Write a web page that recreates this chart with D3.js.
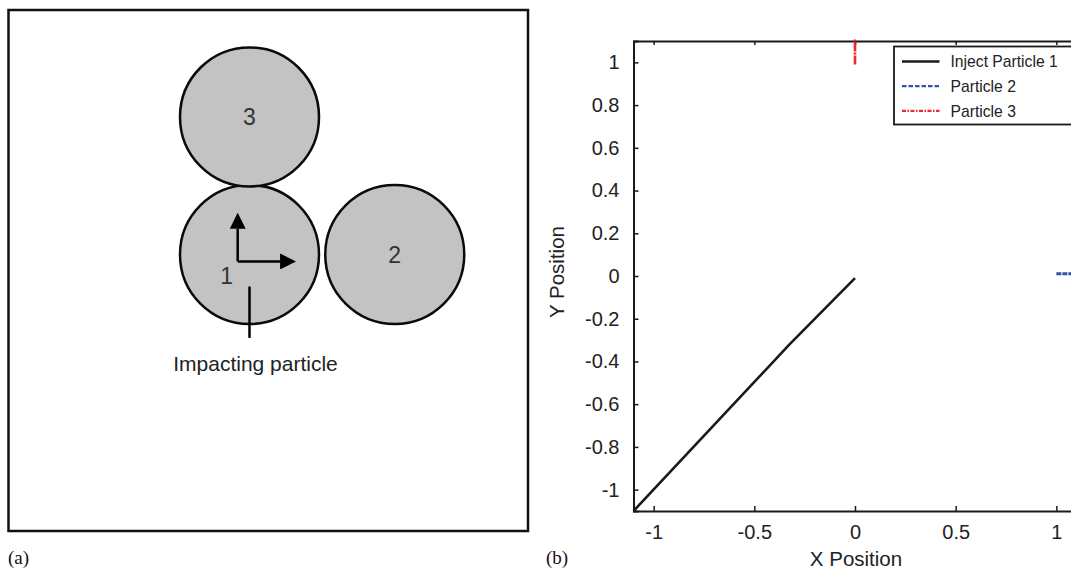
<!DOCTYPE html>
<html>
<head>
<meta charset="utf-8">
<script src="https://cdn.jsdelivr.net/npm/d3@7"></script>
<style>
  body { margin: 0; background: #fff; }
  svg { display: block; font-family: "Liberation Sans", Arial, Helvetica, sans-serif; }
  .serif { font-family: "Liberation Serif", "Times New Roman", serif; }
</style>
</head>
<body>
<div id="chart"></div>
<script>

// ---- panel (a): particle layout, in units of particle radius
var particleNames = ["1", "2", "3"];
var particleCx = [0, 2.09, 0];
var particleCy = [0, 0, 1.98];

// ---- panel (b): trajectories
var xTicks = [-1, -0.5, 0, 0.5, 1];
var yTicks = [-1, -0.8, -0.6, -0.4, -0.2, 0, 0.2, 0.4, 0.6, 0.8, 1];
var seriesNames = ["Inject Particle 1", "Particle 2", "Particle 3"];
var p1X = [-1.1, -0.33, 0];
var p1Y = [-1.1, -0.325, -0.01];
var p2X = [1.0, 1.1];
var p2Y = [0.01, 0.01];
var p3X = [0, 0];
var p3Y = [0.99, 1.11];

var svgWidth = 1071;
var svgHeight = 571;

var svg = d3.select("#chart")
  .append("svg")
  .attr("width", svgWidth)
  .attr("height", svgHeight);

// =================== panel (a) ===================
var a = svg.append("g");

a.append("rect")
  .attr("x", 8.5)
  .attr("y", 10)
  .attr("width", 519.5)
  .attr("height", 521)
  .attr("fill", "none")
  .attr("stroke", "#111")
  .attr("stroke-width", 2.5);

// scales for the schematic (radius = 1 unit)
var ax = d3.scaleLinear().domain([0, 1]).range([249.5, 319]);
var ay = d3.scaleLinear().domain([0, 1]).range([254.5, 185]);
var rPx = ax(1) - ax(0);

var parts = particleNames.map(function(n, i) {
  return { name: n, x: particleCx[i], y: particleCy[i] };
});

a.selectAll("circle.particle")
  .data(parts)
  .enter()
  .append("circle")
  .attr("class", "particle")
  .attr("cx", d => ax(d.x))
  .attr("cy", d => ay(d.y))
  .attr("r", rPx)
  .attr("fill", "#c3c3c3")
  .attr("stroke", "#0a0a0a")
  .attr("stroke-width", 2.5);

// labels 2 and 3 centred, 1 sits lower-left of the arrows
a.selectAll("text.plabel")
  .data(parts)
  .enter()
  .append("text")
  .attr("class", "plabel")
  .attr("x", d => d.name === "1" ? ax(d.x - 0.33) : ax(d.x))
  .attr("y", d => d.name === "1" ? ay(d.y - 0.31) : ay(d.y))
  .attr("dy", "0.36em")
  .attr("text-anchor", "middle")
  .attr("font-size", 23)
  .attr("fill", "#333")
  .text(d => d.name);

// arrow heads
var defs = svg.append("defs");
defs.append("marker")
  .attr("id", "head")
  .attr("viewBox", "0 0 10 10")
  .attr("refX", 0)
  .attr("refY", 5)
  .attr("markerWidth", 16)
  .attr("markerHeight", 16)
  .attr("markerUnits", "userSpaceOnUse")
  .attr("orient", "auto")
  .append("path")
  .attr("d", "M0,0 L10,5 L0,10 Z")
  .attr("fill", "#000");

var ox = ax(-0.17), oy = ay(-0.1);
a.append("line")
  .attr("x1", ox).attr("y1", oy)
  .attr("x2", ox).attr("y2", ay(0.37))
  .attr("stroke", "#000").attr("stroke-width", 2.5)
  .attr("marker-end", "url(#head)");
a.append("line")
  .attr("x1", ox).attr("y1", oy)
  .attr("x2", ax(0.44)).attr("y2", oy)
  .attr("stroke", "#000").attr("stroke-width", 2.5)
  .attr("marker-end", "url(#head)");

// pointer line + caption
a.append("line")
  .attr("x1", ax(0)).attr("y1", ay(-0.46))
  .attr("x2", ax(0)).attr("y2", ay(-1.2))
  .attr("stroke", "#000").attr("stroke-width", 2.5);

a.append("text")
  .attr("x", 255.5)
  .attr("y", 371)
  .attr("text-anchor", "middle")
  .attr("font-size", 21)
  .attr("fill", "#222")
  .text("Impacting particle");

a.append("text")
  .attr("class", "serif")
  .attr("x", 8)
  .attr("y", 564)
  .attr("font-size", 19)
  .attr("fill", "#111")
  .text("(a)");

// =================== panel (b) ===================
var margin = { top: 41, left: 633.5 };
var chartWidth = 1076.5 - margin.left;
var chartHeight = 511 - margin.top;

var chartGroup = svg.append("g")
  .attr("transform", `translate(${margin.left}, ${margin.top})`);

var xScale = d3.scaleLinear().domain([-1.1, 1.1]).range([0, chartWidth]);
var yScale = d3.scaleLinear().domain([-1.1, 1.1]).range([chartHeight, 0]);

// plain hyphen minus like the original
var fmt = d => String(d);

// inward ticks
var xAxis = d3.axisBottom(xScale).tickValues(xTicks).tickSize(-5).tickPadding(14).tickFormat(fmt);
var xTop = d3.axisTop(xScale).tickValues(xTicks).tickSize(-4).tickFormat("");
var yAxis = d3.axisLeft(yScale).tickValues(yTicks).tickSize(-5).tickPadding(14).tickFormat(fmt);

function styleAxis(g) {
  g.select(".domain").attr("stroke", "#1a1a1a").attr("stroke-width", 2);
  g.selectAll(".tick line").attr("stroke", "#1a1a1a").attr("stroke-width", 1.5);
  g.selectAll(".tick text")
    .attr("font-size", 20)
    .attr("fill", "#222")
    .attr("font-family", "'Liberation Sans', Arial, sans-serif");
}

chartGroup.append("g")
  .attr("transform", `translate(0, ${chartHeight})`)
  .call(xAxis)
  .call(styleAxis);

chartGroup.append("g")
  .call(xTop)
  .call(styleAxis);

chartGroup.append("g")
  .call(yAxis)
  .call(styleAxis);

// right frame (falls just outside the picture)
chartGroup.append("line")
  .attr("x1", chartWidth).attr("x2", chartWidth)
  .attr("y1", 0).attr("y2", chartHeight)
  .attr("stroke", "#1a1a1a").attr("stroke-width", 2);

var series = [
  { name: seriesNames[0], xs: p1X, ys: p1Y, color: "#1a1a1a", dash: null, w: 2.6 },
  { name: seriesNames[1], xs: p2X, ys: p2Y, color: "#3553a8", dash: "5,1", w: 3 },
  { name: seriesNames[2], xs: p3X, ys: p3Y, color: "#ea2a2f", dash: "9,1,2,1", w: 2.6 }
];

var line = d3.line()
  .x(d => xScale(d[0]))
  .y(d => yScale(d[1]));

chartGroup.selectAll("path.traj")
  .data(series)
  .enter()
  .append("path")
  .attr("class", "traj")
  .attr("d", s => line(s.xs.map((x, i) => [x, s.ys[i]])))
  .attr("fill", "none")
  .attr("stroke", s => s.color)
  .attr("stroke-width", s => s.w)
  .attr("stroke-dasharray", s => s.dash);

// legend
var legend = svg.append("g")
  .attr("transform", "translate(894, 46.5)");

legend.append("rect")
  .attr("x", 0).attr("y", 0)
  .attr("width", 200).attr("height", 78)
  .attr("fill", "#fff")
  .attr("stroke", "#1a1a1a")
  .attr("stroke-width", 1.8);

var rows = legend.selectAll("g.row")
  .data(series)
  .enter()
  .append("g")
  .attr("class", "row")
  .attr("transform", (d, i) => `translate(0, ${15 + i * 24.7})`);

rows.append("line")
  .attr("x1", 8).attr("x2", 45.5)
  .attr("stroke", d => d.color)
  .attr("stroke-width", d => d.name === seriesNames[0] ? 2.6 : 2.2)
  .attr("stroke-dasharray", d => d.name === seriesNames[0] ? null : (d.name === seriesNames[1] ? "4.5,2" : "4,1.5,1.5,1.5"));

rows.append("text")
  .attr("x", 56.5)
  .attr("dy", "0.36em")
  .attr("font-size", 15.7)
  .attr("fill", "#222")
  .text(d => d.name);

// axis titles
svg.append("text")
  .attr("x", 856)
  .attr("y", 566)
  .attr("text-anchor", "middle")
  .attr("font-size", 20.5)
  .attr("fill", "#222")
  .text("X Position");

svg.append("text")
  .attr("transform", "translate(564, 272) rotate(-90)")
  .attr("text-anchor", "middle")
  .attr("font-size", 20.5)
  .attr("fill", "#222")
  .text("Y Position");

svg.append("text")
  .attr("class", "serif")
  .attr("x", 546)
  .attr("y", 564)
  .attr("font-size", 19)
  .attr("fill", "#111")
  .text("(b)");

</script>
</body>
</html>
